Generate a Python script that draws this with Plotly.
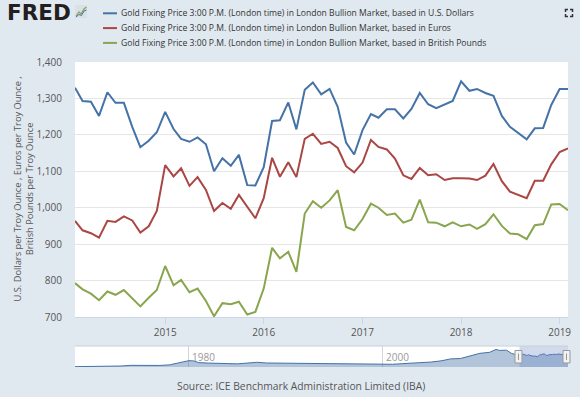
import plotly.graph_objects as go
import pandas as pd

# ---------------- data ----------------
dates = pd.date_range("2014-02-01", "2019-02-01", freq="MS").strftime("%Y-%m-%d").tolist()

usd = [1329, 1293, 1291, 1252, 1317, 1288, 1288, 1222, 1166, 1184, 1207,
       1263, 1216, 1189, 1181, 1193, 1174, 1100, 1136, 1115, 1145, 1062, 1061,
       1111, 1238, 1240, 1289, 1215, 1324, 1344, 1311, 1326, 1277, 1179, 1146,
       1213, 1257, 1247, 1270, 1270, 1245, 1271, 1315, 1284, 1273, 1283, 1293,
       1347, 1321, 1326, 1315, 1307, 1252, 1222, 1204, 1188, 1218, 1219, 1282,
       1326, 1326]
eur = [964, 938, 930, 918, 964, 961, 976, 965, 932, 949, 991,
       1117, 1086, 1108, 1060, 1084, 1049, 991, 1013, 997, 1035, 1004, 971,
       1026, 1137, 1085, 1125, 1084, 1189, 1203, 1175, 1181, 1164, 1114, 1097,
       1124, 1186, 1167, 1160, 1135, 1089, 1079, 1109, 1089, 1092, 1076, 1081,
       1081, 1080, 1076, 1088, 1120, 1073, 1044, 1035, 1026, 1074, 1074, 1119,
       1153, 1163]
gbp = [793, 776, 764, 746, 770, 761, 774, 751, 729, 753, 774,
       840, 787, 802, 768, 778, 744, 702, 738, 735, 742, 707, 714,
       778, 890, 861, 879, 824, 984, 1018, 1000, 1020, 1048, 947, 938,
       969, 1011, 1000, 980, 984, 959, 967, 1022, 960, 959, 949, 960,
       949, 954, 942, 955, 982, 950, 929, 927, 914, 952, 955, 1009,
       1010, 993]

series_names = [
    "Gold Fixing Price 3:00 P.M. (London time) in London Bullion Market, based in U.S. Dollars",
    "Gold Fixing Price 3:00 P.M. (London time) in London Bullion Market, based in Euros",
    "Gold Fixing Price 3:00 P.M. (London time) in London Bullion Market, based in British Pounds",
]
series_colors = ["#4572a7", "#aa4643", "#89a54e"]

# navigator (long history, USD), approximate reading
nav_dates = ["1968-04-01", "1970-01-01", "1972-01-01", "1973-01-01", "1974-01-01", "1975-01-01",
             "1976-01-01", "1977-01-01", "1978-01-01", "1979-01-01", "1980-01-01", "1980-07-01",
             "1981-01-01", "1982-01-01", "1983-01-01", "1984-01-01", "1985-01-01", "1986-01-01",
             "1987-01-01", "1988-01-01", "1989-01-01", "1990-01-01", "1991-01-01", "1992-01-01",
             "1993-01-01", "1994-01-01", "1995-01-01", "1996-01-01", "1997-01-01", "1998-01-01",
             "1999-01-01", "2000-01-01", "2001-01-01", "2002-01-01", "2003-01-01", "2004-01-01",
             "2005-01-01", "2006-01-01", "2007-01-01", "2008-01-01", "2009-01-01", "2010-01-01",
             "2011-01-01", "2011-09-01", "2012-01-01", "2012-10-01", "2013-04-01", "2013-08-01",
             "2014-01-01"]
nav_vals = [38, 36, 60, 100, 170, 150, 130, 160, 220, 400, 650, 620,
            450, 400, 400, 350, 320, 390, 480, 410, 400, 380, 360, 340,
            390, 380, 385, 370, 300, 290, 290, 270, 280, 340, 400, 430,
            510, 630, 830, 870, 1100, 1400, 1500, 1800, 1700, 1720, 1400, 1300,
            1300]
nav_ticks = ["1980", "2000"]

x_ticks = ["2015", "2016", "2017", "2018", "2019"]
y_ticks = [700, 800, 900, 1000, 1100, 1200, 1300, 1400]

W, H = 580, 397
def px(x):
    return x / W
def py(y):
    return 1 - y / H

BG = "#e1e9f0"
FONT = "Open Sans"

fig = go.Figure()
for vals, name, col in zip([usd, eur, gbp], series_names, series_colors):
    fig.add_trace(go.Scatter(x=dates, y=vals, mode="lines", name=name,
                             line=dict(color=col, width=2), showlegend=False))

fig.add_trace(go.Scatter(x=nav_dates + dates, y=nav_vals + usd, mode="lines",
                         line=dict(color="#4572a7", width=1), fill="tozeroy",
                         fillcolor="rgba(69,114,167,0.42)", xaxis="x2", yaxis="y2",
                         showlegend=False, hoverinfo="skip"))

fig.update_layout(
    width=W, height=H, margin=dict(l=0, r=0, t=0, b=0, pad=0, autoexpand=False),
    showlegend=False,
    paper_bgcolor=BG, plot_bgcolor="white",
    font=dict(family=FONT, size=10, color="#555"),
    xaxis=dict(domain=[px(75), px(568)], type="date",
               range=["2014-02-01", "2019-02-01"],
               tickvals=[t + "-01-01" for t in x_ticks], ticktext=x_ticks,
               ticks="outside", ticklen=6, tickcolor="#ccd6eb",
               showgrid=False, showline=True, linecolor="#ccd6eb",
               tickfont=dict(size=10, color="#555"), zeroline=False, automargin=False),
    yaxis=dict(domain=[py(317), py(62)], range=[700, 1400],
               tickvals=y_ticks, tickformat=",", gridcolor="#e6e6e6",
               showline=False, zeroline=False, ticks="", automargin=False,
               ticklabelstandoff=12, tickfont=dict(size=10, color="#555")),
    xaxis2=dict(domain=[px(75), px(568)], anchor="y2", type="date",
                range=["1968-04-01", "2019-02-01"],
                tickvals=[t + "-01-01" for t in nav_ticks], automargin=False,
                showticklabels=False, showgrid=True, gridcolor="#cfd6de",
                ticks="", showline=False, zeroline=False),
    yaxis2=dict(domain=[py(367), py(346)], anchor="x2", range=[0, 2150], automargin=False,
                showticklabels=False, showgrid=False, zeroline=False, showline=False),
)

shapes = []
annotations = []

# navigator decorations
shapes.append(dict(type="rect", xref="x2", yref="paper", x0="2014-02-01", x1="2019-02-01",
                   y0=py(367), y1=py(346), fillcolor="rgba(102,133,194,0.3)", line=dict(width=0),
                   layer="above"))
shapes.append(dict(type="line", xref="paper", yref="paper", x0=px(75), x1=px(568),
                   y0=py(346), y1=py(346), line=dict(color="#c8d0d8", width=1)))
for hx in [518.5, 566.5]:
    shapes.append(dict(type="rect", xref="paper", yref="paper", x0=px(hx - 3.5), x1=px(hx + 3.5),
                       y0=py(363), y1=py(350.5), fillcolor="#f2f2f2", line=dict(color="#999", width=1)))
    shapes.append(dict(type="line", xref="paper", yref="paper", x0=px(hx), x1=px(hx),
                       y0=py(360), y1=py(353.5), line=dict(color="#999", width=1)))
for t in nav_ticks:
    annotations.append(dict(text=t, xref="x2", yref="paper", x=t + "-01-01", y=py(357),
                            xanchor="left", yanchor="middle", xshift=1, showarrow=False,
                            font=dict(size=10, color="#999")))

# legend (lines + text)
for i, (name, col) in enumerate(zip(series_names, series_colors)):
    yy = 13.3 + 14.8 * i
    shapes.append(dict(type="line", xref="paper", yref="paper", x0=px(103), x1=px(117),
                       y0=py(yy), y1=py(yy), line=dict(color=col, width=2)))
    annotations.append(dict(text=name, xref="paper", yref="paper", x=px(119), y=py(yy),
                            xanchor="left", yanchor="middle", showarrow=False,
                            font=dict(size=8.6, color="#333")))

# FRED logo
annotations.append(dict(text="<b>FRED</b>", xref="paper", yref="paper", x=px(4.5), y=py(12.5),
                        xanchor="left", yanchor="middle", showarrow=False,
                        font=dict(family="DejaVu Sans", size=21.5, color="#231f20")))
shapes.append(dict(type="rect", xref="paper", yref="paper", x0=px(75), x1=px(87),
                   y0=py(18), y1=py(5), fillcolor="#d9e0e8", line=dict(width=0)))
shapes.append(dict(type="path", xref="paper", yref="paper",
                   path="M %f %f L %f %f L %f %f L %f %f L %f %f" % (
                       px(76), py(16), px(79), py(12), px(81), py(14), px(84), py(9), px(86.5), py(7)),
                   line=dict(color="#89a54e", width=1.2)))
shapes.append(dict(type="path", xref="paper", yref="paper",
                   path="M %f %f L %f %f L %f %f L %f %f L %f %f" % (
                       px(76), py(17), px(79), py(14.5), px(81.5), py(15.5), px(84), py(11), px(86.5), py(10)),
                   line=dict(color="#4572a7", width=1)))

# fullscreen icon
for (cx, cy, dx, dy) in [(565.5, 9.5, 1, 1), (572.5, 9.5, -1, 1), (565.5, 16.5, 1, -1), (572.5, 16.5, -1, -1)]:
    shapes.append(dict(type="path", xref="paper", yref="paper",
                       path="M %f %f L %f %f L %f %f" % (px(cx + 2.5 * dx), py(cy), px(cx), py(cy),
                                                         px(cx), py(cy + 2.5 * dy)),
                       line=dict(color="#333", width=1.5)))

# y-axis title
annotations.append(dict(text="U.S. Dollars per Troy Ounce , Euros per Troy Ounce ,<br>British Pounds per Troy Ounce",
                        xref="paper", yref="paper", x=px(23), y=py(189.5), textangle=-90,
                        xanchor="center", yanchor="middle", showarrow=False,
                        font=dict(size=9.3, color="#555")))

# source
annotations.append(dict(text="Source: ICE Benchmark Administration Limited (IBA)",
                        xref="paper", yref="paper", x=px(301), y=py(386),
                        xanchor="center", yanchor="middle", showarrow=False,
                        font=dict(size=10.3, color="#555")))

fig.update_layout(shapes=shapes, annotations=annotations)
fig.write_html("out.html", config={"displayModeBar": False},
               post_script="document.body.style.margin='0';document.body.style.padding='0';")
